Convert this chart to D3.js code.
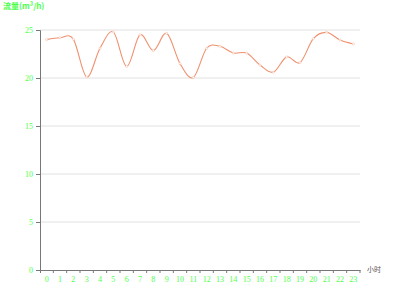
<!DOCTYPE html>
<html><head><meta charset="utf-8">
<script src="https://cdn.jsdelivr.net/npm/d3@7"></script>
<style>body{margin:0;background:#fff}svg{display:block}</style>
</head><body>
<svg id="c" width="400" height="300"></svg>
<script>
const hours = ["0","1","2","3","4","5","6","7","8","9","10","11","12","13","14","15","16","17","18","19","20","21","22","23"];
const flow = [24.0,24.2,24.05,20.1,23.1,24.8,21.2,24.5,22.85,24.65,21.5,20.05,23.1,23.3,22.6,22.6,21.35,20.6,22.2,21.6,24.1,24.75,23.95,23.55];
const yTicks = [0,5,10,15,20,25];

(function(){
const svg = d3.select("#c");
const mL = 40, mR = 360, mT = 30, mB = 270;
const x = d3.scaleBand().domain(hours).range([mL, mR]);
const y = d3.scaleLinear().domain([0,25]).range([mB, mT]);
const green = "#4dff4d";
const axisCol = "#777";

// grid
svg.append("g").selectAll("line").data(yTicks.filter(d=>d>0)).join("line")
  .attr("x1", mL).attr("x2", mR)
  .attr("y1", d=>y(d)).attr("y2", d=>y(d))
  .attr("stroke", "#e0e0e0").attr("stroke-width", 1);

// y axis
const ya = svg.append("g").attr("transform", `translate(${mL},0)`)
  .call(d3.axisLeft(y).tickValues(yTicks).tickSize(4).tickPadding(3));
ya.select(".domain").attr("stroke", axisCol);
ya.selectAll(".tick line").attr("stroke", axisCol);
ya.selectAll("text").attr("fill", green).style("font-family", "Liberation Serif").style("font-size", "8px");

// x axis
const xa = svg.append("g").attr("transform", `translate(0,${mB})`)
  .call(d3.axisBottom(x).tickSize(0).tickPadding(6));
xa.select(".domain").attr("stroke", axisCol);
xa.selectAll("text").attr("fill", green).style("font-family", "Liberation Serif").style("font-size", "8px");
xa.append("g").selectAll("line").data(hours).join("line")
  .attr("x1", d=>x(d)+x.bandwidth()).attr("x2", d=>x(d)+x.bandwidth())
  .attr("y1", 0).attr("y2", 3).attr("stroke", axisCol);
xa.append("line").attr("x1", mL+0.5).attr("x2", mL+0.5).attr("y1",0).attr("y2",3).attr("stroke", axisCol);

// line
const line = d3.line().x((d,i)=>x(hours[i])+x.bandwidth()/2).y(d=>y(d))
  .curve(d3.curveCardinal.tension(0));
svg.append("path").datum(flow).attr("d", line)
  .attr("fill", "none").attr("stroke", "#f0906f").attr("stroke-width", 1.1);
svg.append("g").selectAll("circle").data(flow).join("circle")
  .attr("cx", (d,i)=>x(hours[i])+x.bandwidth()/2).attr("cy", d=>y(d))
  .attr("r", 1.1).attr("fill", "#fff").attr("stroke", "#f5b8a0").attr("stroke-width", 0.5);

// titles
svg.append("text").attr("x", 3).attr("y", 9).text("流量(m³/h)")
  .attr("fill", green).style("font-family", "Noto Sans CJK SC").style("font-size", "8px").style("font-weight", "bold");
svg.append("text").attr("x", 367).attr("y", 272).text("小时")
  .attr("fill", "#555").style("font-family", "Noto Sans CJK SC").style("font-size", "7px");
})();
</script>
</body></html>
